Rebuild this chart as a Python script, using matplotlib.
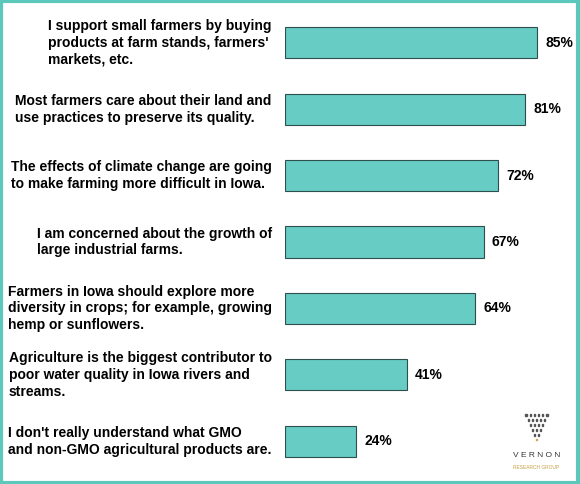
import matplotlib.pyplot as plt
from matplotlib.patches import Rectangle

labels = [
    "I support small farmers by buying\nproducts at farm stands, farmers'\nmarkets, etc.",
    "Most farmers care about their land and\nuse practices to preserve its quality.",
    "The effects of climate change are going\nto make farming more difficult in Iowa.",
    "I am concerned about the growth of\nlarge industrial farms.",
    "Farmers in Iowa should explore more\ndiversity in crops; for example, growing\nhemp or sunflowers.",
    "Agriculture is the biggest contributor to\npoor water quality in Iowa rivers and\nstreams.",
    "I don't really understand what GMO\nand non-GMO agricultural products are.",
]
values = [85, 81, 72, 67, 64, 41, 24]

fig = plt.figure(figsize=(5.8, 4.84), dpi=100)
plt.rcParams['font.family'] = ['Liberation Sans', 'DejaVu Sans']
# green frame around the image
fig.patches.append(Rectangle((0.002, 0.003), 0.995, 0.994, transform=fig.transFigure,
                             fill=False, edgecolor='#5CC8BC', linewidth=3))

ax = fig.add_axes([285 / 580, 0.02, 295 / 580, 0.96])
ypos = list(range(len(values)))
ax.barh(ypos, values, height=0.47, color='#66CCC4', edgecolor='#2F4F4F', linewidth=0.8)
ax.set_xlim(0, 99.5)
ax.set_ylim(len(values) - 0.5, -0.5)
ax.axis('off')

for y, v, lab in zip(ypos, values, labels):
    ax.text(v + 2.8, y, f"{v}%", va='center', ha='left', fontsize=10, fontweight='bold')
    ax.text(-4.5, y, lab, va='center', ha='right', multialignment='left',
            fontsize=10, fontweight='bold', linespacing=1.25)

# logo
fig.text(0.925, 0.055, "V E R N O N", ha='center', fontsize=6, color='#333333')
fig.text(0.925, 0.03, "RESEARCH GROUP", ha='center', fontsize=3.5, color='#C8A040')
for i, n in enumerate([6, 5, 4, 3, 2]):
    for j in range(n):
        fig.patches.append(Rectangle((0.925 + (j - (n - 1) / 2) * 0.007 - 0.0015,
                                      0.14 - i * 0.01), 0.003, 0.004,
                                     transform=fig.transFigure, color='#555555'))
fig.patches.append(Rectangle((0.9235, 0.09), 0.003, 0.004,
                             transform=fig.transFigure, color='#C8A040'))

fig.savefig("out.png", dpi=100)
